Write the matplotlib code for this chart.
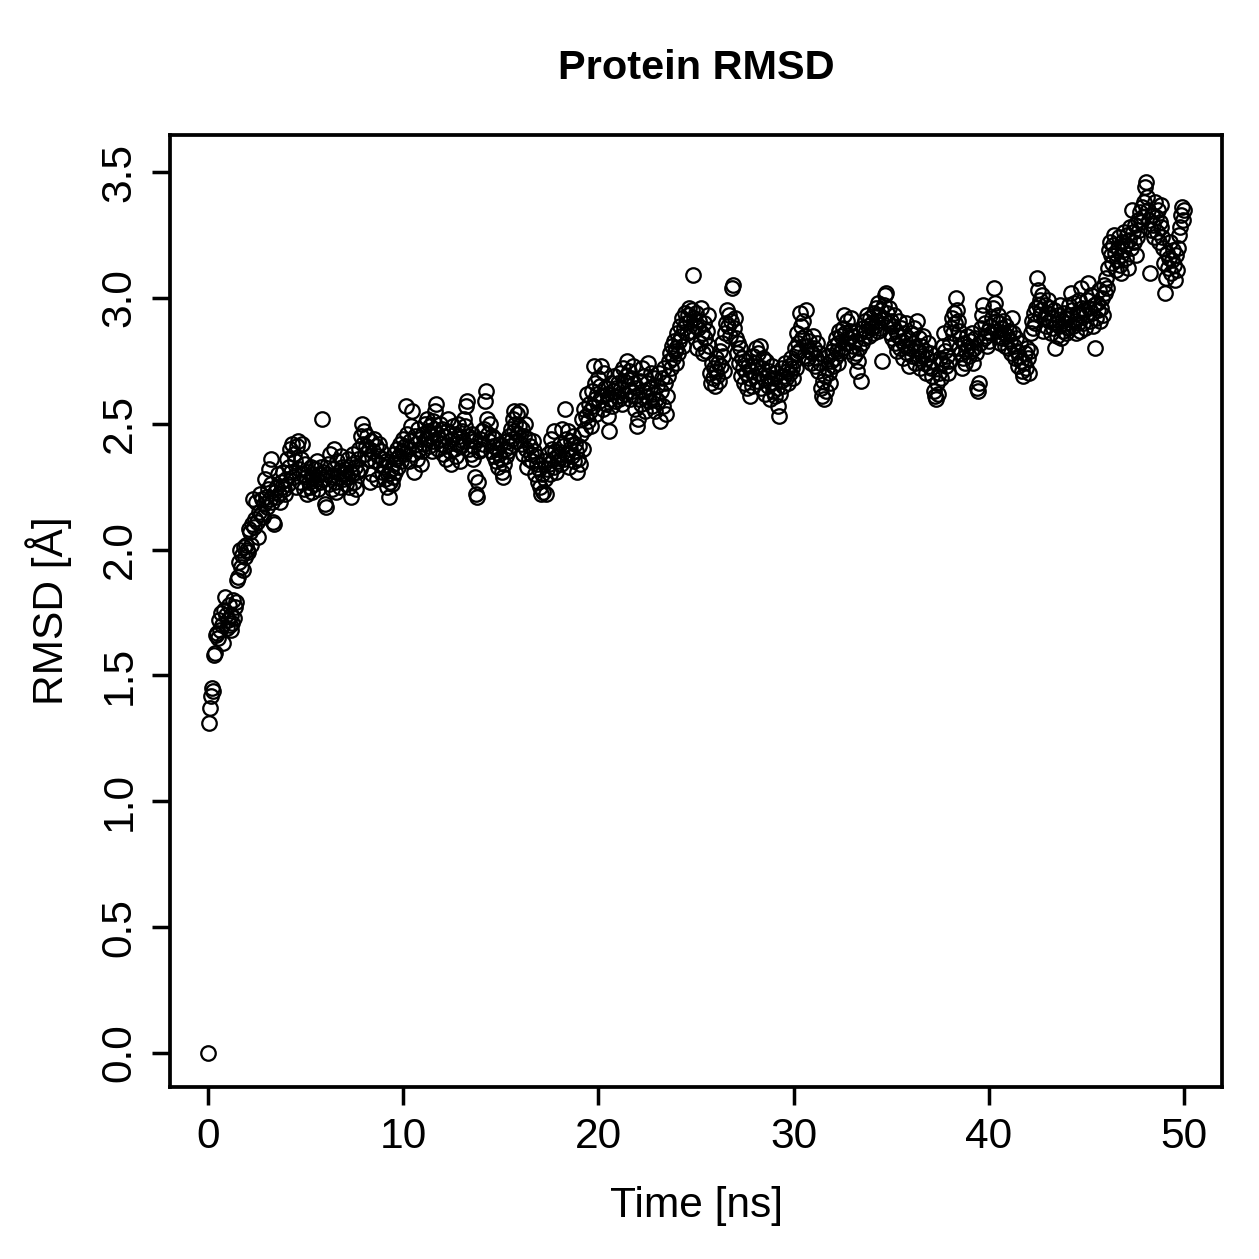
import numpy as np
import matplotlib
matplotlib.use("Agg")
import matplotlib.pyplot as plt

plt.rcParams['font.family'] = ['Liberation Sans', 'DejaVu Sans']

# RMSD values (Å), one row per nanosecond, 0.05 ns sampling
rmsd_rows = [
    [0.00, 1.31, 1.37, 1.42, 1.45, 1.44, 1.58, 1.59, 1.66, 1.67, 1.65, 1.72, 1.68, 1.75, 1.70, 1.63, 1.76, 1.81, 1.74, 1.69],
    [1.72, 1.78, 1.70, 1.68, 1.74, 1.71, 1.80, 1.73, 1.77, 1.79, 1.88, 1.89, 1.95, 2.00, 1.93, 1.98, 1.92, 2.01, 1.97, 2.02],
    [2.00, 1.99, 2.08, 2.07, 2.02, 2.10, 2.20, 2.09, 2.12, 2.19, 2.11, 2.05, 2.15, 2.22, 2.14, 2.20, 2.13, 2.18, 2.28, 2.21],
    [2.17, 2.24, 2.32, 2.20, 2.36, 2.26, 2.19, 2.11, 2.10, 2.23, 2.21, 2.25, 2.30, 2.22, 2.19, 2.27, 2.25, 2.31, 2.24, 2.22],
    [2.28, 2.36, 2.26, 2.33, 2.40, 2.31, 2.42, 2.29, 2.38, 2.35, 2.25, 2.41, 2.43, 2.32, 2.27, 2.36, 2.42, 2.30, 2.24, 2.34],
    [2.29, 2.22, 2.31, 2.27, 2.25, 2.33, 2.29, 2.23, 2.30, 2.26, 2.32, 2.28, 2.35, 2.24, 2.30, 2.27, 2.33, 2.52, 2.31, 2.28],
    [2.18, 2.17, 2.30, 2.34, 2.26, 2.38, 2.29, 2.24, 2.32, 2.40, 2.27, 2.23, 2.35, 2.29, 2.31, 2.25, 2.37, 2.33, 2.28, 2.30],
    [2.32, 2.26, 2.29, 2.36, 2.25, 2.31, 2.21, 2.34, 2.30, 2.38, 2.27, 2.33, 2.24, 2.31, 2.36, 2.40, 2.32, 2.45, 2.50, 2.42],
    [2.47, 2.38, 2.41, 2.45, 2.36, 2.40, 2.27, 2.43, 2.30, 2.39, 2.44, 2.35, 2.41, 2.28, 2.37, 2.42, 2.34, 2.39, 2.31, 2.36],
    [2.33, 2.28, 2.35, 2.25, 2.30, 2.21, 2.27, 2.32, 2.26, 2.34, 2.29, 2.38, 2.31, 2.36, 2.40, 2.33, 2.37, 2.42, 2.35, 2.39],
    [2.44, 2.38, 2.41, 2.57, 2.46, 2.40, 2.35, 2.43, 2.49, 2.55, 2.38, 2.31, 2.45, 2.42, 2.36, 2.48, 2.40, 2.44, 2.34, 2.39],
    [2.46, 2.42, 2.50, 2.44, 2.52, 2.47, 2.41, 2.49, 2.45, 2.39, 2.51, 2.43, 2.48, 2.55, 2.58, 2.46, 2.40, 2.44, 2.50, 2.42],
    [2.48, 2.38, 2.45, 2.41, 2.36, 2.47, 2.52, 2.43, 2.39, 2.34, 2.44, 2.49, 2.40, 2.46, 2.37, 2.42, 2.50, 2.45, 2.35, 2.41],
    [2.47, 2.43, 2.52, 2.49, 2.57, 2.59, 2.45, 2.40, 2.44, 2.38, 2.46, 2.41, 2.36, 2.43, 2.29, 2.22, 2.21, 2.27, 2.39, 2.44],
    [2.40, 2.47, 2.42, 2.48, 2.59, 2.63, 2.52, 2.46, 2.43, 2.50, 2.39, 2.45, 2.41, 2.37, 2.44, 2.35, 2.40, 2.33, 2.38, 2.42],
    [2.36, 2.31, 2.29, 2.34, 2.40, 2.37, 2.43, 2.39, 2.45, 2.41, 2.48, 2.44, 2.52, 2.47, 2.55, 2.50, 2.43, 2.54, 2.46, 2.49],
    [2.55, 2.42, 2.48, 2.38, 2.45, 2.50, 2.40, 2.33, 2.44, 2.36, 2.41, 2.38, 2.35, 2.43, 2.39, 2.30, 2.37, 2.34, 2.27, 2.32],
    [2.25, 2.22, 2.30, 2.23, 2.35, 2.28, 2.22, 2.32, 2.38, 2.34, 2.30, 2.44, 2.40, 2.36, 2.47, 2.33, 2.39, 2.31, 2.37, 2.35],
    [2.38, 2.42, 2.34, 2.48, 2.41, 2.36, 2.56, 2.44, 2.38, 2.47, 2.33, 2.40, 2.43, 2.37, 2.45, 2.35, 2.42, 2.39, 2.31, 2.36],
    [2.41, 2.34, 2.46, 2.52, 2.40, 2.56, 2.48, 2.53, 2.62, 2.51, 2.58, 2.55, 2.49, 2.63, 2.57, 2.73, 2.60, 2.66, 2.54, 2.62],
    [2.68, 2.59, 2.65, 2.73, 2.61, 2.56, 2.70, 2.64, 2.58, 2.62, 2.53, 2.47, 2.60, 2.66, 2.57, 2.63, 2.69, 2.59, 2.64, 2.61],
    [2.66, 2.60, 2.70, 2.64, 2.58, 2.72, 2.67, 2.62, 2.69, 2.75, 2.65, 2.71, 2.60, 2.68, 2.63, 2.73, 2.66, 2.61, 2.56, 2.64],
    [2.49, 2.52, 2.60, 2.67, 2.58, 2.72, 2.63, 2.69, 2.55, 2.61, 2.66, 2.74, 2.59, 2.64, 2.70, 2.57, 2.62, 2.68, 2.55, 2.60],
    [2.65, 2.59, 2.70, 2.51, 2.63, 2.68, 2.57, 2.72, 2.66, 2.54, 2.61, 2.69, 2.75, 2.78, 2.72, 2.81, 2.76, 2.83, 2.79, 2.74],
    [2.80, 2.86, 2.78, 2.83, 2.89, 2.85, 2.92, 2.81, 2.88, 2.94, 2.90, 2.86, 2.93, 2.96, 2.91, 2.87, 2.95, 3.09, 2.92, 2.89],
    [2.94, 2.80, 2.88, 2.91, 2.82, 2.96, 2.86, 2.78, 2.90, 2.84, 2.79, 2.87, 2.93, 2.81, 2.70, 2.66, 2.74, 2.68, 2.72, 2.65],
    [2.71, 2.76, 2.69, 2.74, 2.67, 2.79, 2.73, 2.82, 2.77, 2.71, 2.86, 2.90, 2.95, 2.89, 2.93, 2.85, 2.91, 3.04, 3.05, 2.88],
    [2.92, 2.84, 2.78, 2.82, 2.74, 2.80, 2.69, 2.76, 2.72, 2.66, 2.75, 2.70, 2.64, 2.73, 2.68, 2.61, 2.71, 2.65, 2.77, 2.69],
    [2.74, 2.80, 2.67, 2.73, 2.78, 2.70, 2.81, 2.64, 2.72, 2.76, 2.68, 2.62, 2.75, 2.69, 2.65, 2.71, 2.60, 2.66, 2.73, 2.63],
    [2.68, 2.61, 2.70, 2.64, 2.57, 2.53, 2.62, 2.67, 2.72, 2.65, 2.69, 2.74, 2.68, 2.71, 2.66, 2.73, 2.70, 2.76, 2.72, 2.68],
    [2.75, 2.80, 2.72, 2.78, 2.86, 2.82, 2.79, 2.94, 2.89, 2.84, 2.91, 2.77, 2.85, 2.95, 2.81, 2.76, 2.83, 2.79, 2.74, 2.78],
    [2.85, 2.80, 2.73, 2.76, 2.82, 2.71, 2.78, 2.74, 2.64, 2.61, 2.67, 2.60, 2.69, 2.63, 2.72, 2.77, 2.70, 2.66, 2.75, 2.79],
    [2.73, 2.81, 2.76, 2.84, 2.79, 2.74, 2.82, 2.87, 2.78, 2.85, 2.80, 2.88, 2.93, 2.86, 2.82, 2.91, 2.84, 2.79, 2.87, 2.92],
    [2.85, 2.81, 2.77, 2.83, 2.78, 2.71, 2.75, 2.80, 2.86, 2.67, 2.82, 2.88, 2.84, 2.91, 2.87, 2.93, 2.89, 2.85, 2.92, 2.88],
    [2.90, 2.86, 2.94, 2.89, 2.96, 2.91, 2.87, 2.98, 2.93, 2.88, 2.95, 2.75, 2.92, 2.97, 3.01, 3.02, 2.94, 2.90, 2.96, 2.86],
    [2.91, 2.84, 2.89, 2.93, 2.82, 2.87, 2.79, 2.85, 2.91, 2.80, 2.88, 2.83, 2.76, 2.86, 2.81, 2.90, 2.78, 2.84, 2.73, 2.80],
    [2.86, 2.77, 2.82, 2.88, 2.74, 2.80, 2.91, 2.76, 2.84, 2.79, 2.72, 2.81, 2.77, 2.85, 2.74, 2.79, 2.70, 2.76, 2.82, 2.73],
    [2.78, 2.72, 2.69, 2.75, 2.63, 2.61, 2.60, 2.66, 2.62, 2.70, 2.76, 2.68, 2.74, 2.81, 2.86, 2.79, 2.73, 2.77, 2.70, 2.75],
    [2.82, 2.88, 2.92, 2.86, 2.94, 2.90, 3.00, 2.95, 2.91, 2.87, 2.80, 2.84, 2.78, 2.72, 2.76, 2.82, 2.74, 2.79, 2.85, 2.81],
    [2.77, 2.83, 2.79, 2.86, 2.74, 2.80, 2.84, 2.78, 2.64, 2.63, 2.66, 2.82, 2.88, 2.93, 2.97, 2.84, 2.90, 2.85, 2.81, 2.87],
    [2.83, 2.89, 2.86, 2.92, 2.96, 3.04, 2.98, 2.91, 2.87, 2.93, 2.85, 2.90, 2.82, 2.88, 2.84, 2.91, 2.86, 2.81, 2.89, 2.85],
    [2.80, 2.87, 2.83, 2.78, 2.92, 2.86, 2.81, 2.76, 2.84, 2.79, 2.73, 2.77, 2.82, 2.75, 2.71, 2.69, 2.74, 2.78, 2.72, 2.80],
    [2.76, 2.70, 2.79, 2.86, 2.91, 2.88, 2.94, 2.90, 2.96, 3.08, 3.03, 2.97, 2.93, 2.99, 2.95, 3.01, 2.87, 2.92, 2.97, 2.89],
    [2.94, 2.99, 2.91, 2.96, 2.86, 2.92, 2.88, 2.95, 2.80, 2.90, 2.85, 2.93, 2.89, 2.97, 2.84, 2.91, 2.87, 2.94, 2.90, 2.86],
    [2.92, 2.88, 2.97, 2.93, 3.02, 2.95, 2.89, 2.98, 2.91, 2.86, 2.94, 2.90, 2.99, 2.87, 2.93, 3.04, 2.96, 2.90, 2.95, 2.88],
    [2.93, 2.99, 3.06, 2.96, 2.91, 3.01, 2.94, 2.89, 2.97, 2.80, 2.92, 2.98, 2.95, 3.03, 2.91, 2.96, 3.00, 2.93, 3.05, 3.02],
    [3.08, 3.04, 3.12, 3.19, 3.22, 3.17, 3.14, 3.21, 3.25, 3.18, 3.11, 3.15, 3.20, 3.24, 3.13, 3.17, 3.10, 3.22, 3.19, 3.26],
    [3.21, 3.16, 3.25, 3.12, 3.23, 3.28, 3.20, 3.35, 3.26, 3.22, 3.29, 3.17, 3.24, 3.31, 3.27, 3.34, 3.30, 3.36, 3.32, 3.38],
    [3.44, 3.46, 3.40, 3.35, 3.31, 3.10, 3.27, 3.33, 3.29, 3.24, 3.38, 3.32, 3.26, 3.35, 3.22, 3.30, 3.37, 3.28, 3.24, 3.20],
    [3.14, 3.02, 3.08, 3.18, 3.12, 3.16, 3.22, 3.10, 3.15, 3.19, 3.13, 3.07, 3.17, 3.11, 3.20, 3.25, 3.28, 3.33, 3.36, 3.31],
    [3.35],
]
rmsd = np.array([v for row in rmsd_rows for v in row])
time_ns = np.arange(len(rmsd)) * 0.05

x_ticks = [0, 10, 20, 30, 40, 50]
y_ticks = [0.0, 0.5, 1.0, 1.5, 2.0, 2.5, 3.0, 3.5]
y_tick_labels = ["0.0", "0.5", "1.0", "1.5", "2.0", "2.5", "3.0", "3.5"]

W = 1259
dpi = 180
fig = plt.figure(figsize=(W / dpi, W / dpi), dpi=dpi)
ax = fig.add_axes([170 / W, 1 - 1087 / W, (1222 - 170) / W, (1087 - 135) / W])

ax.plot(time_ns, rmsd, linestyle='none', marker='o', markersize=5.8,
        markerfacecolor='none', markeredgecolor='black', markeredgewidth=0.9)

ax.set_xlim(-1.95, 51.95)
ax.set_ylim(-0.135, 3.647)
ax.set_xticks(x_ticks)
ax.set_yticks(y_ticks)
ax.set_yticklabels(y_tick_labels, rotation=90, va='center')

for s in ax.spines.values():
    s.set_linewidth(1.5)
ax.tick_params(axis='both', direction='out', length=7.2, width=1.4,
               labelsize=17, colors='black')
ax.tick_params(axis='x', pad=4.6)
ax.tick_params(axis='y', pad=5.0)

fig.text(697 / W, 1 - 1216.7 / W, "Time [ns]", ha='center', va='baseline',
         fontsize=17)
fig.text(63.3 / W, 1 - 611 / W, "RMSD [Å]", ha='center', va='baseline',
         rotation=90, rotation_mode='anchor', fontsize=17)
fig.text(696 / W, 1 - 79.3 / W, "Protein RMSD", ha='center', va='baseline',
         fontsize=16.6, fontweight='bold')

fig.savefig("out.png", dpi=dpi)
